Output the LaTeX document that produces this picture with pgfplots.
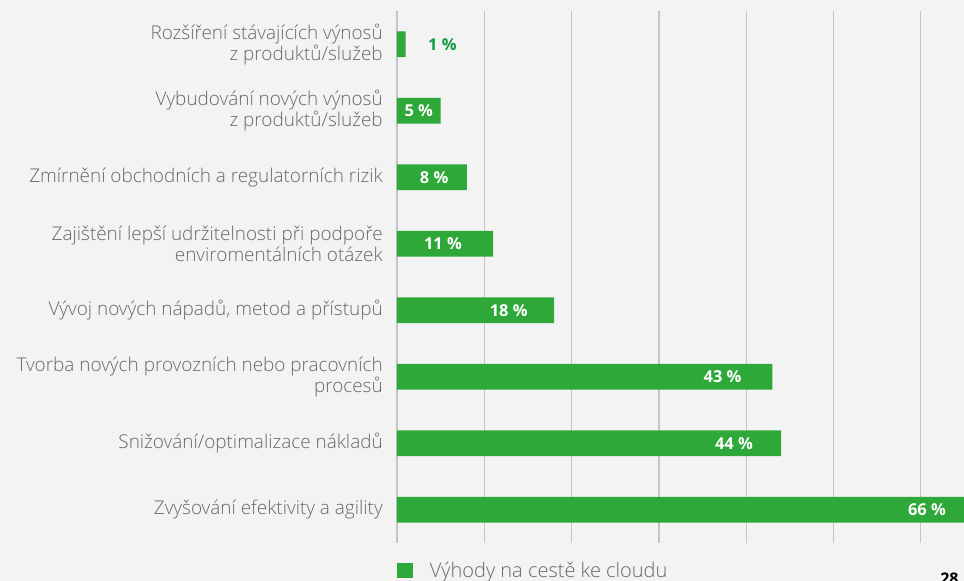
\documentclass[border=0pt]{standalone}
\usepackage{fontspec}
\setmainfont{Open Sans}
\newfontfamily\lightfont{Open Sans Light}
\usepackage{pgfplots}
\pgfplotsset{compat=1.18}

\definecolor{barg}{RGB}{46,168,56}
\definecolor{lblg}{RGB}{14,154,62}
\definecolor{txtg}{RGB}{104,104,104}
\definecolor{gridc}{RGB}{196,196,196}
\definecolor{bgc}{RGB}{243,243,243}

\begin{document}
\begin{tikzpicture}
% page area 964x581 px, 1px = 0.75pt
\fill[bgc] (0,0) rectangle (723pt,435.75pt);
\begin{axis}[
    at={(297.75pt,28.5pt)}, anchor=south west,
    scale only axis,
    width=425.25pt, height=399pt,
    xmin=0, xmax=64.95,
    ymin=-0.5, ymax=7.5,
    y dir=reverse,
    clip=true,
    axis line style={draw=none},
    xtick={0,10,...,60},
    xticklabels={},
    xmajorgrids,
    grid style={gridc, line width=1pt},
    major tick length=0pt,
    ytick={0,...,7},
    yticklabels={
        {Rozšíření stávajících výnosů\\z produktů/služeb},
        {Vybudování nových výnosů\\z produktů/služeb},
        {Zmírnění obchodních a regulatorních rizik},
        {Zajištění lepší udržitelnosti při podpoře\\enviromentálních otázek},
        {Vývoj nových nápadů, metod a přístupů},
        {Tvorba nových provozních nebo pracovních\\procesů},
        {Snižování/optimalizace nákladů},
        {Zvyšování efektivity a agility}},
    yticklabel style={font=\lightfont\fontsize{14.2}{13.5}\selectfont, text=txtg,
        align=right, inner sep=0pt, xshift=-10.5pt},
    legend style={at={(rel axis cs:0,0)}, anchor=north west,
        yshift=-12pt, draw=none, fill=none, inner sep=0pt,
        font=\lightfont\fontsize{15}{16}\selectfont, text=txtg},
    legend image code/.code={\fill[#1] (0pt,-5.8pt) rectangle (11.5pt,5.8pt);},
]
\addplot[xbar, bar width=0.39, bar shift=0pt, fill=barg, draw=none]
coordinates {(1,0) (5,1) (8,2) (11,3) (18,4) (43,5) (44,6) (66,7)};
\addlegendentry{\hspace{11pt}Výhody na cestě ke cloudu}

% value labels inside the bars
\addplot[forget plot, draw=none, mark=none,
    nodes near coords, point meta=explicit symbolic,
    nodes near coords style={anchor=center, text=white,
        font=\bfseries\fontsize{12.3}{12}\selectfont}]
coordinates {
    (2.5,1) [5 \%]
    (4.25,2) [8 \%]
    (5.27,3) [11 \%]
    (12.8,4) [18 \%]
    (37.3,5) [43 \%]
    (38.6,6) [44 \%]
    (60.7,7) [66 \%]
};
% value label beside the smallest bar
\addplot[forget plot, draw=none, mark=none,
    nodes near coords, point meta=explicit symbolic,
    nodes near coords style={anchor=center, text=lblg,
        font=\bfseries\fontsize{12.3}{12}\selectfont}]
coordinates {(5.2,0) [1 \%]};
\end{axis}
\node[anchor=north west, inner sep=0pt, font=\bfseries\fontsize{12}{12}\selectfont]
    at (705pt,6.5pt) {28};
\pgfresetboundingbox
\path (0,0) rectangle (723pt,435.75pt);
\end{tikzpicture}
\end{document}
